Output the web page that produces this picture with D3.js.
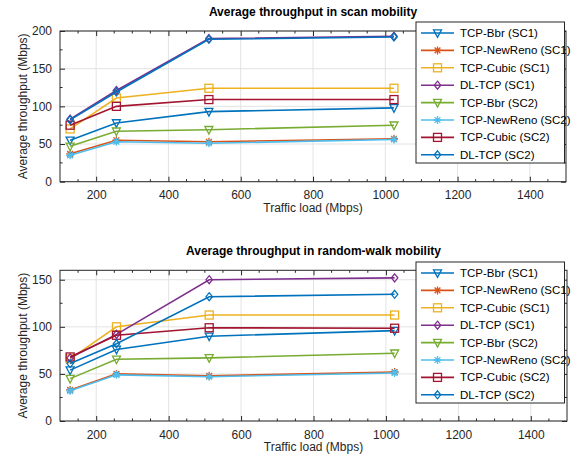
<!DOCTYPE html>
<html>
<head>
<meta charset="utf-8">
<script src="https://cdn.jsdelivr.net/npm/d3@7"></script>
<style>
  body { margin: 0; background: #fff; }
  svg { font-family: "Liberation Sans", Arial, sans-serif; }
</style>
</head>
<body>
<div id="chart"></div>
<script>
// traffic loads (Mbps)
const loads = [128, 256, 512, 1024];

const seriesNames = [
    'TCP-Bbr (SC1)', 'TCP-NewReno (SC1)', 'TCP-Cubic (SC1)', 'DL-TCP (SC1)',
    'TCP-Bbr (SC2)', 'TCP-NewReno (SC2)', 'TCP-Cubic (SC2)', 'DL-TCP (SC2)'
];
const seriesColors = ['#0072BD', '#D95319', '#EDB120', '#7E2F8E', '#77AC30', '#4DBEEE', '#A2142F', '#0072BD'];
const seriesMarkers = ['tri', 'star', 'square', 'diamond', 'tri', 'star', 'square', 'diamond'];

// scan mobility
const scanValues = [
    [55, 78, 93, 98],
    [37, 55, 53, 57],
    [70, 111, 124, 124],
    [83, 121, 190, 193],
    [47, 67, 69, 75],
    [35, 53, 51, 56],
    [75, 100, 109, 109],
    [82, 119, 189, 192]
];

// random-walk mobility
const walkValues = [
    [54, 76, 90, 96],
    [33, 50, 48, 52],
    [66, 100, 112.5, 112.5],
    [67, 92, 150, 152],
    [45, 65.5, 67, 72],
    [32, 49, 47, 51],
    [68, 91, 99, 98.5],
    [61, 82, 132, 134.5]
];

const xTicks = [200, 400, 600, 800, 1000, 1200, 1400];

const W = 572, H = 454;
const svg = d3.select('#chart').append('svg')
    .attr('width', W).attr('height', H);

function drawMarker(g, type, color) {
    const s = 4;
    if (type === 'tri') {
        g.append('path').attr('d', `M${-s},${-s * 0.8} L${s},${-s * 0.8} L0,${s * 1.1} Z`)
            .attr('fill', 'none').attr('stroke', color).attr('stroke-width', 1.3);
    } else if (type === 'square') {
        g.append('rect').attr('x', -s).attr('y', -s).attr('width', 2 * s).attr('height', 2 * s)
            .attr('fill', 'none').attr('stroke', color).attr('stroke-width', 1.3);
    } else if (type === 'diamond') {
        g.append('path').attr('d', `M0,${-s} L${s * 0.8},0 L0,${s} L${-s * 0.8},0 Z`)
            .attr('fill', 'none').attr('stroke', color).attr('stroke-width', 1.3);
    } else {
        const r = s;
        const d = r * 0.72;
        g.append('path')
            .attr('d', `M${-r},0 L${r},0 M0,${-r} L0,${r} M${-d},${-d} L${d},${d} M${-d},${d} L${d},${-d}`)
            .attr('stroke', color).attr('stroke-width', 1.3);
    }
}

function drawPanel(p) {
    const x = d3.scaleLinear().domain([100, 1500]).range([p.left, p.right]);
    const y = d3.scaleLinear().domain([0, p.yMax]).range([p.bottom, p.top]);
    const g = svg.append('g');
    const axisColor = '#262626';

    // grid
    g.append('g').selectAll('line').data(xTicks).join('line')
        .attr('x1', d => x(d)).attr('x2', d => x(d))
        .attr('y1', p.top).attr('y2', p.bottom)
        .attr('stroke', '#e3e3e3').attr('stroke-width', 1);
    g.append('g').selectAll('line').data(p.yTicks).join('line')
        .attr('x1', p.left).attr('x2', p.right)
        .attr('y1', d => y(d)).attr('y2', d => y(d))
        .attr('stroke', '#e3e3e3').attr('stroke-width', 1);

    // axes (ticks pointing inward, box on)
    const xMinor = d3.range(150, 1500, 50).filter(v => v % 200 !== 0);
    const yMinor = d3.range(25, p.yMax, 25).filter(v => v % 50 !== 0);

    g.append('g').attr('transform', `translate(0,${p.bottom})`)
        .call(d3.axisBottom(x).tickValues(xTicks).tickFormat(d3.format('d'))
            .tickSizeInner(-5).tickSizeOuter(0).tickPadding(9))
        .call(a => a.select('.domain').remove());
    g.append('g').attr('transform', `translate(0,${p.top})`)
        .call(d3.axisTop(x).tickValues(xTicks).tickSizeInner(-5).tickSizeOuter(0).tickFormat(''))
        .call(a => a.select('.domain').remove());
    g.append('g').attr('transform', `translate(${p.left},0)`)
        .call(d3.axisLeft(y).tickValues(p.yTicks).tickSizeInner(-5).tickSizeOuter(0).tickPadding(8))
        .call(a => a.select('.domain').remove());
    g.append('g').attr('transform', `translate(${p.right},0)`)
        .call(d3.axisRight(y).tickValues(p.yTicks).tickSizeInner(-5).tickSizeOuter(0).tickFormat(''))
        .call(a => a.select('.domain').remove());

    // minor ticks
    [p.bottom, p.top].forEach((yy, i) => {
        g.append('g').selectAll('line').data(xMinor).join('line')
            .attr('x1', d => x(d)).attr('x2', d => x(d))
            .attr('y1', yy).attr('y2', i === 0 ? yy - 2.5 : yy + 2.5)
            .attr('stroke', axisColor);
    });
    [p.left, p.right].forEach((xx, i) => {
        g.append('g').selectAll('line').data(yMinor).join('line')
            .attr('y1', d => y(d)).attr('y2', d => y(d))
            .attr('x1', xx).attr('x2', i === 0 ? xx + 2.5 : xx - 2.5)
            .attr('stroke', axisColor);
    });

    g.selectAll('.tick line').attr('stroke', axisColor);
    g.selectAll('.tick text').attr('fill', axisColor).style('font-size', '12px')
        .style('font-family', '"Liberation Sans", Arial, sans-serif');

    g.append('rect')
        .attr('x', p.left).attr('y', p.top)
        .attr('width', p.right - p.left).attr('height', p.bottom - p.top)
        .attr('fill', 'none').attr('stroke', axisColor).attr('stroke-width', 1);

    // series
    const line = d3.line().x((d, i) => x(loads[i])).y(d => y(d));
    p.values.forEach((vals, s) => {
        const sg = g.append('g');
        sg.append('path').datum(vals).attr('d', line)
            .attr('fill', 'none').attr('stroke', seriesColors[s]).attr('stroke-width', 1.6);
        vals.forEach((v, i) => {
            const mg = sg.append('g').attr('transform', `translate(${x(loads[i])},${y(v)})`);
            drawMarker(mg, seriesMarkers[s], seriesColors[s]);
        });
    });

    // title and labels
    g.append('text').attr('x', (p.left + p.right) / 2).attr('y', p.top - 15)
        .attr('text-anchor', 'middle').style('font-size', '12px').style('font-weight', 'bold')
        .attr('fill', '#000').text(p.title);
    g.append('text').attr('x', (p.left + p.right) / 2).attr('y', p.bottom + 30)
        .attr('text-anchor', 'middle').style('font-size', '12px').attr('fill', axisColor)
        .text('Traffic load (Mbps)');
    g.append('text')
        .attr('transform', `translate(27,${(p.top + p.bottom) / 2}) rotate(-90)`)
        .attr('text-anchor', 'middle').style('font-size', '12px').attr('fill', axisColor)
        .text('Average throughput (Mbps)');

    // legend
    const lg = g.append('g');
    lg.append('rect').attr('x', 416).attr('y', p.legendTop)
        .attr('width', 148.5).attr('height', 141)
        .attr('fill', '#fff').attr('stroke', axisColor).attr('stroke-width', 1);
    seriesNames.forEach((name, s) => {
        const ry = p.legendTop + 11 + s * 17.4;
        lg.append('line').attr('x1', 421).attr('x2', 454).attr('y1', ry).attr('y2', ry)
            .attr('stroke', seriesColors[s]).attr('stroke-width', 1.6);
        drawMarker(lg.append('g').attr('transform', `translate(437.5,${ry})`), seriesMarkers[s], seriesColors[s]);
        lg.append('text').attr('x', 460).attr('y', ry + 4)
            .style('font-size', '11.5px').attr('fill', '#000').text(name);
    });
}

drawPanel({
    title: 'Average throughput in scan mobility',
    values: scanValues,
    yMax: 200, yTicks: [0, 50, 100, 150, 200],
    left: 60, right: 566, top: 31, bottom: 181.7,
    legendTop: 22
});

drawPanel({
    title: 'Average throughput in random-walk mobility',
    values: walkValues,
    yMax: 160, yTicks: [0, 50, 100, 150],
    left: 60, right: 567, top: 270.3, bottom: 421,
    legendTop: 262
});
</script>
</body>
</html>
